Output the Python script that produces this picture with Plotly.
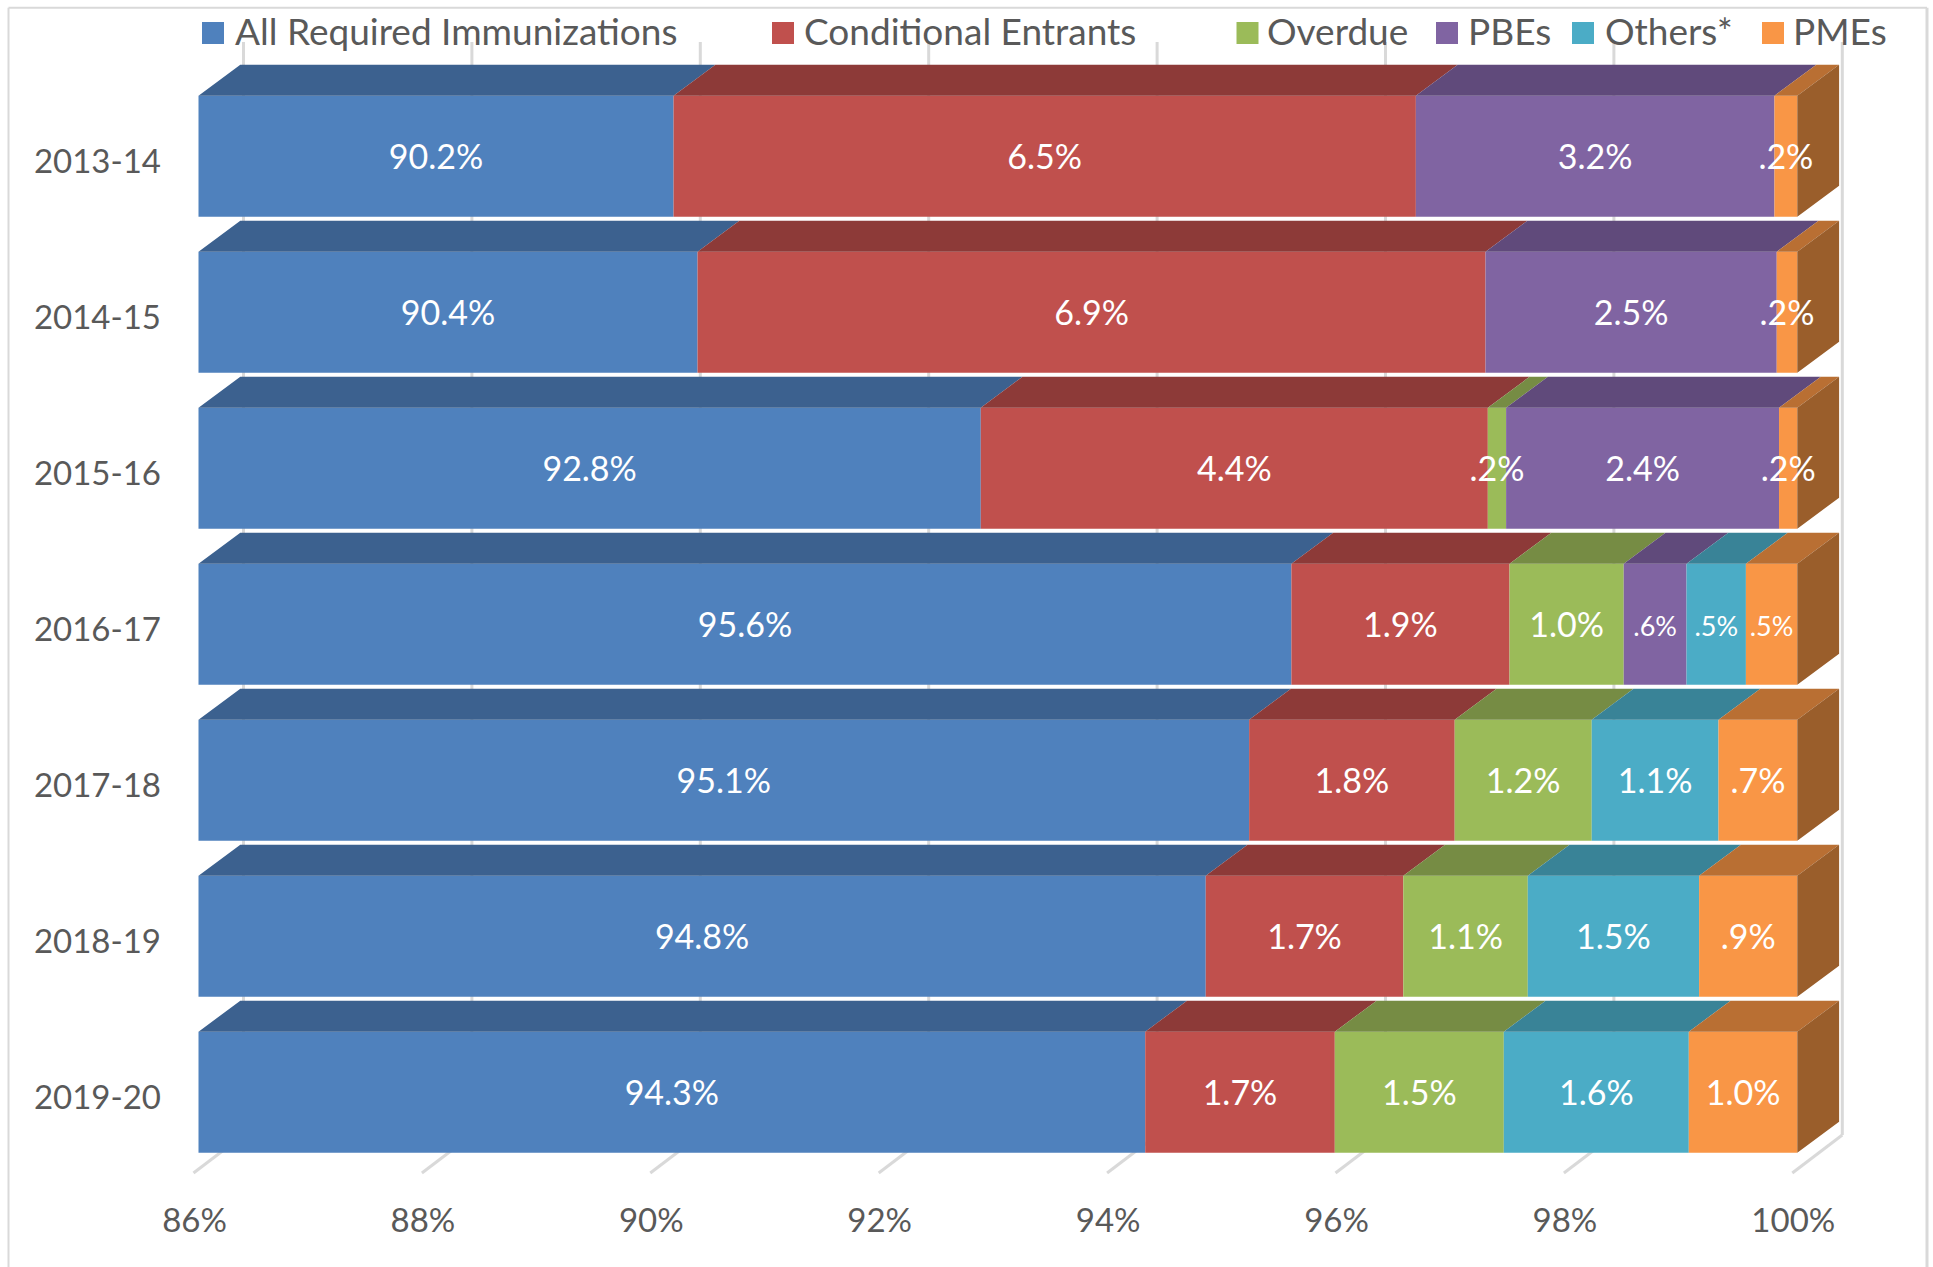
import plotly.graph_objects as go

years = ["2013-14", "2014-15", "2015-16", "2016-17", "2017-18", "2018-19", "2019-20"]
series_names = ["All Required Immunizations", "Conditional Entrants", "Overdue", "PBEs", "Others*", "PMEs"]
all_required = [90.16, 90.37, 92.85, 95.57, 95.20, 94.82, 94.29]
conditional = [6.50, 6.90, 4.44, 1.91, 1.80, 1.73, 1.66]
overdue = [0, 0, 0.16, 1.00, 1.20, 1.09, 1.48]
pbes = [3.14, 2.55, 2.39, 0.55, 0, 0, 0]
others = [0, 0, 0, 0.52, 1.11, 1.50, 1.62]
pmes = [0.20, 0.18, 0.16, 0.45, 0.69, 0.86, 0.95]

label_all = ["90.2%", "90.4%", "92.8%", "95.6%", "95.1%", "94.8%", "94.3%"]
label_cond = ["6.5%", "6.9%", "4.4%", "1.9%", "1.8%", "1.7%", "1.7%"]
label_over = ["", "", ".2%", "1.0%", "1.2%", "1.1%", "1.5%"]
label_pbe = ["3.2%", "2.5%", "2.4%", ".6%", "", "", ""]
label_oth = ["", "", "", ".5%", "1.1%", "1.5%", "1.6%"]
label_pme = [".2%", ".2%", ".2%", ".5%", ".7%", ".9%", "1.0%"]

x_ticks = [86, 88, 90, 92, 94, 96, 98, 100]
x_tick_labels = ["86%", "88%", "90%", "92%", "94%", "96%", "98%", "100%"]

front_colors = ["#4F81BD", "#C0504D", "#9BBB59", "#8064A2", "#4BACC6", "#F99646"]
top_colors = ["#3C618F", "#8D3A38", "#768C44", "#604A7B", "#398397", "#B96F33"]
side_color = "#9A5E2B"
grid_color = "#D9D9D9"
text_gray = "#595959"
font = "Lato"

values = [all_required, conditional, overdue, pbes, others, pmes]
labels = [label_all, label_cond, label_over, label_pbe, label_oth, label_pme]

# Geometry of the page
PL, PR, PT, PB = 164.0, 1850.0, 30.0, 1175.0
PX_PER_PCT = 114.2
PX_PER_ROW = 156.0
X0_PX = 198.5
ROW0_PX = 156.2
DX = 41.8 / PX_PER_PCT
DY = 31.0 / PX_PER_ROW
BAR_W = 121.0 / PX_PER_ROW


def xdata(px):
    return 86 + (px - X0_PX) / PX_PER_PCT


def ydata(py):
    return (py - ROW0_PX) / PX_PER_ROW


def xp(px):
    return (px - PL) / (PR - PL)


def yp(py):
    return (PB - py) / (PB - PT)


fig = go.Figure()
rows = list(range(len(years)))

# Front faces
cum = [86.0] * len(years)
for s, name in enumerate(series_names):
    vals = values[s]
    if s == 0:
        widths = [v - 86 for v in vals]
        bases = [86.0] * len(rows)
    else:
        widths = list(vals)
        bases = list(cum)
    fig.add_trace(go.Bar(
        y=rows, x=widths, base=bases, orientation="h", width=BAR_W, name=name,
        marker=dict(color=front_colors[s], line=dict(width=0)), showlegend=False,
        hoverinfo="skip",
    ))
    cum = [b + w for b, w in zip(bases, widths)]

# Top faces, computed from the same stacked values
cum = [86.0] * len(years)
for s, name in enumerate(series_names):
    vals = values[s]
    xs, ys = [], []
    new_cum = []
    for r in rows:
        start = cum[r]
        end = vals[r] if s == 0 else start + vals[r]
        new_cum.append(end)
        if end > start:
            yf = r - BAR_W / 2
            xs += [start, end, end + DX, start + DX, start, None]
            ys += [yf, yf, yf - DY, yf - DY, yf, None]
    cum = new_cum
    fig.add_trace(go.Scatter(
        x=xs, y=ys, mode="lines", fill="toself", fillcolor=top_colors[s],
        line=dict(width=0, color=top_colors[s]), showlegend=False, hoverinfo="skip",
    ))

# Right side faces
xs, ys = [], []
for r in rows:
    end = cum[r]
    yt = r - BAR_W / 2
    yb = r + BAR_W / 2
    xs += [end, end + DX, end + DX, end, end, None]
    ys += [yt, yt - DY, yb - DY, yb, yt, None]
fig.add_trace(go.Scatter(
    x=xs, y=ys, mode="lines", fill="toself", fillcolor=side_color,
    line=dict(width=0, color=side_color), showlegend=False, hoverinfo="skip",
))

# Data labels
cum = [86.0] * len(years)
for s, name in enumerate(series_names):
    vals = values[s]
    xs, ys, ts, sizes = [], [], [], []
    new_cum = []
    for r in rows:
        start = cum[r]
        end = vals[r] if s == 0 else start + vals[r]
        new_cum.append(end)
        if labels[s][r]:
            xs.append((start + end) / 2)
            ys.append(r + 0.03)
            ts.append(labels[s][r])
            sizes.append(27 if labels[s][r] in (".5%", ".6%") else 34)
    cum = new_cum
    fig.add_trace(go.Scatter(
        x=xs, y=ys, mode="text", text=ts, textposition="middle center",
        textfont=dict(family=font, color="white", size=sizes),
        showlegend=False, hoverinfo="skip", cliponaxis=False,
    ))

# Walls and floor
shapes = []
FLOOR_FRONT_PX = 1173.0
FLOOR_BACK_PX = 1135.0
WALL_TOP_PX = 42.0
for t in x_ticks:
    px = X0_PX + (t - 86) * PX_PER_PCT
    shapes.append(dict(type="line", layer="below", xref="x", yref="y",
                       x0=xdata(px - 5), x1=xdata(px + 45),
                       y0=ydata(FLOOR_FRONT_PX), y1=ydata(FLOOR_BACK_PX),
                       line=dict(color=grid_color, width=3)))
    shapes.append(dict(type="line", layer="below", xref="x", yref="y",
                       x0=xdata(px + 45), x1=xdata(px + 45),
                       y0=ydata(FLOOR_BACK_PX), y1=ydata(WALL_TOP_PX),
                       line=dict(color=grid_color, width=3)))

# Outer frame
FRAME_L, FRAME_R, FRAME_T = 8.5, 1927.0, 7.7
for x0, y0, x1, y1, w in [(FRAME_L, 1267, FRAME_L, FRAME_T, 2), (FRAME_L, FRAME_T, FRAME_R, FRAME_T, 2),
                          (FRAME_R, FRAME_T, FRAME_R, 1267, 3)]:
    shapes.append(dict(type="line", layer="below", xref="paper", yref="paper",
                       x0=xp(x0), x1=xp(x1), y0=yp(y0), y1=yp(y1),
                       line=dict(color=grid_color, width=w)))

# Legend
legend_square_px = [202, 772, 1236.5, 1436, 1572, 1762]
legend_text_px = [232.5, 802, 1265, 1466, 1603, 1790.5]
annotations = []
for s, name in enumerate(series_names):
    shapes.append(dict(type="rect", layer="above", xref="paper", yref="paper",
                       x0=xp(legend_square_px[s]), x1=xp(legend_square_px[s] + 22),
                       y0=yp(22), y1=yp(44),
                       fillcolor=front_colors[s], line=dict(width=0)))
    annotations.append(dict(xref="paper", yref="paper", x=xp(legend_text_px[s]), y=yp(30.5),
                            text=name, showarrow=False, xanchor="left", yanchor="middle",
                            font=dict(family=font, size=37, color=text_gray)))

fig.update_layout(
    width=1933, height=1267, autosize=False,
    margin=dict(l=PL, r=1933 - PR, t=PT, b=1267 - PB, pad=0),
    paper_bgcolor="white", plot_bgcolor="rgba(0,0,0,0)",
    barmode="overlay", showlegend=False,
    shapes=shapes, annotations=annotations,
    xaxis=dict(range=[xdata(PL), xdata(PR)], tickmode="array", tickvals=x_ticks,
               ticktext=x_tick_labels, showgrid=False, zeroline=False, showline=False, ticks="",
               ticklabelshift=-4, ticklabelstandoff=23,
               tickfont=dict(family=font, size=33, color=text_gray)),
    yaxis=dict(range=[ydata(PB), ydata(PT)], tickmode="array", tickvals=rows,
               ticktext=years, showgrid=False, zeroline=False, showline=False, ticks="",
               ticklabelshift=-5, ticklabelstandoff=2,
               tickfont=dict(family=font, size=33, color=text_gray)),
)

fig.write_html("out.html", config=dict(displayModeBar=False),
               post_script="document.body.style.margin='0';")
